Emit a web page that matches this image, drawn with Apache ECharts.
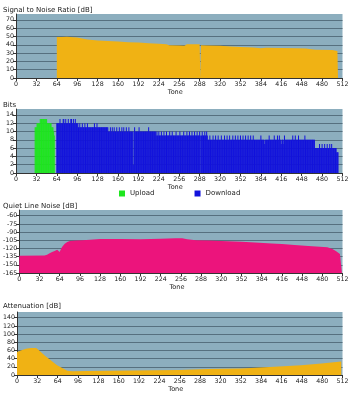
<!DOCTYPE html>
<html><head><meta charset="utf-8">
<script src="https://cdn.jsdelivr.net/npm/echarts@6/dist/echarts.min.js"></script>
<style>html,body{margin:0;padding:0;background:#fff}#c{width:355px;height:400px}</style>
</head><body><div id="c"></div>
<script>
// ---- data ----
const toneMin = 0, toneMax = 512, toneStep = 32;

const snrTone = [64,64,72,80,90,96,104,112,120,128,144,160,176,192,208,224,236,240,256,264,268,288,289,290,300,320,336,352,372,384,392,416,440,455,460,470,496,500,504,505];
const snrDb   = [0,49.2,49.2,49.6,49,48.6,47.5,46.3,45.8,45.2,44.4,44,43.1,42.7,41.9,41.1,40.6,39.5,39,38.7,40.5,40.7,0,39.3,39.1,38.7,37.9,37.2,36.6,35.8,36.4,36.2,35.8,35.6,35,34,33.8,33,32.6,0];

const ulFirstTone = 30;
const ulBits = [11,11,11,12,12,12,12,12,13,13,13,13,13,13,13,13,13,13,13,12,12,12,12,12,12,12,11,11,11,10,9];

// [fromTone, toTone, bits]
const dlLevels = [[64,97,12],[98,144,11],[145,219,10],[220,300,9],[301,468,8],[469,502,6],[503,505,5]];
// single tones differing from their level: [tone, bits]
const dlSpikes = [
  [69,13],[74,13],[75,13],[78,13],[82,13],[86,13],[87,13],[90,13],[93,13],
  [100,12],[104,12],[108,12],[112,12],[123,12],[127,12],
  [148,11],[151,11],[154,11],[158,11],[162,11],[166,11],[169,11],[173,11],[177,11],[186,11],[193,11],[208,11],
  [184,2],
  [221,10],[224,10],[228,10],[232,10],[236,10],[241,10],[245,10],[251,10],[257,10],[263,10],[268,10],[272,10],[276,10],[280,10],[284,10],[288,10],[292,10],[296,10],[299,10],
  [290,0],
  [304,9],[309,9],[313,9],[317,9],[322,9],[327,9],[331,9],[335,9],[340,9],[344,9],[348,9],[352,9],[356,9],[360,9],[364,9],[368,9],[372,9],[384,9],[397,9],[405,9],[410,9],[413,9],[421,9],[434,9],[438,9],[443,9],[453,9],
  [390,7],[416,7],[420,7],
  [476,7],[480,7],[484,7],[488,7],[492,7],[495,7]
];

const noiseTone = [0,40,44,48,52,56,58,60,62,64,66,68,72,76,80,90,100,112,128,160,192,224,248,258,266,280,300,330,352,380,400,416,436,458,488,496,502,508,511];
const noiseDb   = [-133.4,-133,-131.5,-129,-126.5,-124.5,-123,-122.5,-124.5,-126.5,-121,-117,-111.5,-108,-106.5,-105.5,-105,-104,-102.5,-102.5,-103,-102.3,-101.3,-101.3,-103,-105,-105.5,-106.7,-107.9,-109.7,-111,-111.8,-113.8,-115.6,-117.6,-121,-125,-130,-133];

const attTone = [0,6,14,22,30,35,43,53,63,74,79,87,110,147,183,256,301,353,405,447,479,510];
const attDb   = [56,60,64,66,66,60,48,36,24,14.5,10.5,9,9.7,10.5,11,12,14.5,16,20,24,28,33];

const titles = ['Signal to Noise Ratio [dB]','Bits','Quiet Line Noise [dB]','Attenuation [dB]'];
const yMin  = [0, 0, -165, 0];
const yMax  = [77, 15.4, -49.5, 154];
const yStep = [10, 2, 15, 20];

// ---- layout / style ----
const gridTop = [14,109,210,312], gridH = [64,64,63,63];
const titleTop = [7,101.5,202.7,302.7];
const FONT = 'DejaVu Sans';
const C_BG = '#8caebe', C_GRID = '#56707f', C_ORANGE = '#f0b214', C_GREEN = '#1ee61e', C_BLUE = '#1212dc', C_MAG = '#ec147c', C_TXT = '#222', C_AX = '#333';

const zip = (a, b) => a.map((v, i) => [v, b[i]]);

const dlMap = {};
dlLevels.forEach(([a, b, v]) => { for (let t = a; t <= b; t++) dlMap[t] = v; });
dlSpikes.forEach(([t, v]) => { dlMap[t] = v; });
const dlData = Object.keys(dlMap).map(Number).sort((a, b) => a - b).map(t => [t, dlMap[t]]);
const ulData = ulBits.map((v, i) => [ulFirstTone + i, v]);

const grids = [], xAxes = [], yAxes = [], tts = [];
for (let i = 0; i < 4; i++) {
  grids.push({left: 16, width: 326.5, top: gridTop[i], height: gridH[i], show: true, backgroundColor: C_BG, borderWidth: 0});
  xAxes.push({gridIndex: i, type: 'value', min: toneMin, max: toneMax, interval: toneStep,
    name: 'Tone', nameLocation: 'middle', nameGap: 11,
    nameTextStyle: {fontSize: 6.5, color: C_TXT, fontFamily: FONT, padding: [0, 8, 0, 0]},
    axisLine: {show: true, lineStyle: {color: C_AX, width: 1}},
    axisTick: {show: true, length: 3, lineStyle: {color: C_AX}},
    axisLabel: {fontSize: 6.3, margin: 3, color: C_TXT, fontFamily: FONT},
    splitLine: {show: false}});
  yAxes.push({gridIndex: i, type: 'value', min: yMin[i], max: yMax[i], interval: yStep[i],
    axisLine: {show: true, lineStyle: {color: C_AX, width: 1}},
    axisTick: {show: true, length: 3, lineStyle: {color: C_AX}},
    axisLabel: {fontSize: 6.3, margin: 2, color: C_TXT, fontFamily: FONT, showMaxLabel: false},
    splitLine: {show: true, showMaxLine: false, showMinLine: false, lineStyle: {color: C_GRID, width: 1}}});
  tts.push({text: titles[i], left: 3, top: titleTop[i], padding: 0,
    textStyle: {fontSize: 7, fontWeight: 'normal', color: C_TXT, fontFamily: FONT}});
}

const areaLine = (name, idx, data, color) => ({
  name, type: 'line', xAxisIndex: idx, yAxisIndex: idx, data, symbol: 'none', showSymbol: false,
  color, lineStyle: {width: 0}, areaStyle: {color, opacity: 1, origin: 'start'}, silent: true
});

const option = {
  animation: false,
  backgroundColor: '#fff',
  title: tts,
  grid: grids,
  xAxis: xAxes,
  yAxis: yAxes,
  legend: {data: ['Upload', 'Download'], left: 119, top: 190, itemWidth: 6, itemHeight: 6, itemGap: 40,
    icon: 'rect', padding: 0, textStyle: {fontSize: 7, color: C_TXT, fontFamily: FONT}},
  series: [
    areaLine('SNR', 0, zip(snrTone, snrDb), C_ORANGE),
    {name: 'Upload', type: 'bar', xAxisIndex: 1, yAxisIndex: 1, data: ulData, color: C_GREEN,
      itemStyle: {color: C_GREEN}, barWidth: '90%', barGap: '-100%', silent: true},
    {name: 'Download', type: 'bar', xAxisIndex: 1, yAxisIndex: 1, data: dlData, color: C_BLUE,
      itemStyle: {color: C_BLUE}, barWidth: '90%', barGap: '-100%', silent: true},
    areaLine('Noise', 2, zip(noiseTone, noiseDb), C_MAG),
    areaLine('Attenuation', 3, zip(attTone, attDb), C_ORANGE)
  ]
};
const chart = echarts.init(document.getElementById('c'), null, {renderer: 'canvas'});
chart.setOption(option);
</script></body></html>
